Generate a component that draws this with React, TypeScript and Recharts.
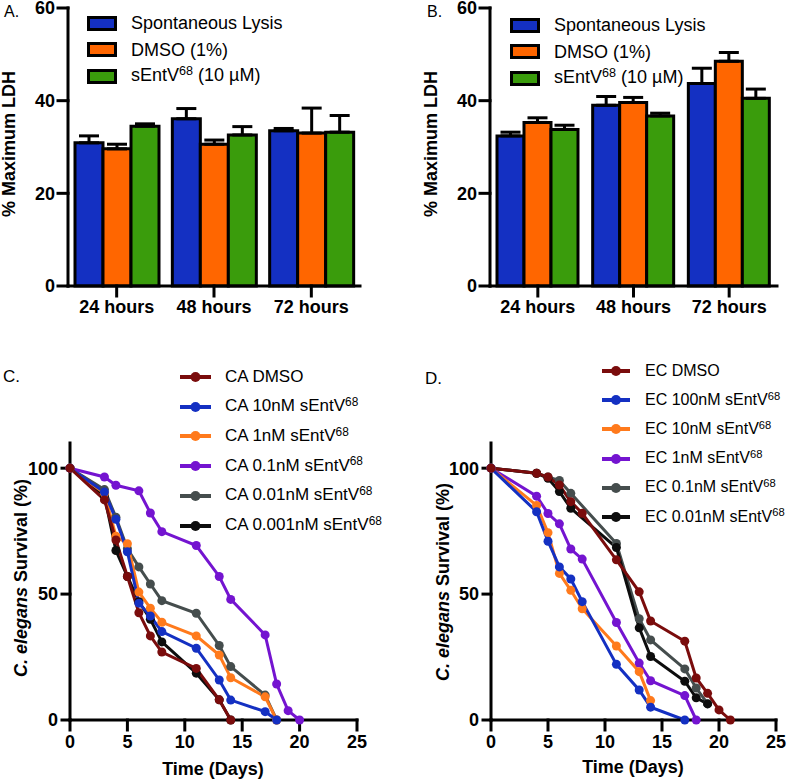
import React from 'react';
import { BarChart, Bar, ErrorBar, LineChart, Line, XAxis, YAxis, Label } from 'recharts';

const FONT = '"Liberation Sans", Arial, Helvetica, sans-serif';

// ---- LDH release (panels A, B) ----
const timepoints = ['24 hours', '48 hours', '72 hours'];
const ldhNames = ['Spontaneous Lysis', 'DMSO (1%)', 'sEntV68 (10 µM)'];
const ldhColors = ['#1430c2', '#ff6600', '#3a9c0c'];

const aLysis = [30.9, 36.1, 33.5];
const aLysisErr = [1.5, 2.2, 0.5];
const aDmso = [29.6, 30.6, 33.0];
const aDmsoErr = [1.0, 0.9, 5.4];
const aEntv = [34.5, 32.6, 33.2];
const aEntvErr = [0.5, 1.8, 3.6];

const bLysis = [32.4, 39.0, 43.7];
const bLysisErr = [0.8, 1.9, 3.3];
const bDmso = [35.3, 39.6, 48.5];
const bDmsoErr = [1.0, 1.1, 1.9];
const bEntv = [33.8, 36.7, 40.5];
const bEntvErr = [0.9, 0.6, 2.0];

// ---- survival curves (panels C, D) ----
const caNames = ['CA DMSO', 'CA 10nM sEntV68', 'CA 1nM sEntV68', 'CA 0.1nM sEntV68', 'CA 0.01nM sEntV68', 'CA 0.001nM sEntV68'];
const ecNames = ['EC DMSO', 'EC 100nM sEntV68', 'EC 10nM sEntV68', 'EC 1nM sEntV68', 'EC 0.1nM sEntV68', 'EC 0.01nM sEntV68'];
const survColors = ['#7a0c0c', '#1430c2', '#ff7a1c', '#7414d0', '#454d4d', '#0d0d0d'];

const caDmsoDays = [0, 3, 4, 5, 6, 7, 8, 11, 13, 14];
const caDmso = [100, 87.4, 71.5, 57, 42.6, 33.4, 27, 20.5, 8, 0];
const ca10Days = [0, 3, 4, 5, 6, 7, 8, 11, 13, 14, 17, 18];
const ca10 = [100, 90.5, 79.7, 66.8, 46.4, 41.3, 35.1, 28.5, 15.9, 7.9, 3.3, 0];
const ca1Days = [0, 3, 4, 5, 6, 7, 8, 11, 13, 14, 17, 18];
const ca1 = [100, 90, 73, 70, 50.8, 44.4, 38.8, 33.4, 25.8, 16.8, 9.2, 0];
const ca01Days = [0, 3, 4, 6, 7, 8, 11, 13, 14, 17, 18, 19, 20];
const ca01 = [100, 96.5, 93.2, 91, 82.2, 74.8, 69.3, 57, 47.9, 33.8, 14.3, 3.7, 0];
const ca001Days = [0, 3, 4, 5, 6, 7, 8, 11, 13, 14, 17, 18];
const ca001 = [100, 91.5, 80.5, 68, 60.8, 54, 47.4, 42.4, 29.6, 21.2, 9.9, 0];
const ca0001Days = [0, 3, 4, 5, 6, 7, 8, 11, 13, 14];
const ca0001 = [100, 89, 67.3, 57, 47, 40, 31, 18.6, 8, 0];

const ecDmsoDays = [0, 4, 5, 6, 7, 8, 11, 13, 14, 17, 18, 19, 20, 21];
const ecDmso = [100, 98, 96.5, 93.3, 86.7, 82.1, 63.6, 50.9, 39.3, 31.3, 16.7, 10.6, 4, 0];
const ec100Days = [0, 4, 5, 6, 7, 8, 11, 13, 14, 17];
const ec100 = [100, 82.7, 71, 60.8, 56, 47, 22.1, 11.9, 5.1, 0];
const ec10Days = [0, 4, 5, 6, 7, 8, 11, 13, 14];
const ec10 = [100, 85.2, 74.4, 58.2, 51.5, 44.2, 29.4, 19.2, 7.7];
const ec1Days = [0, 4, 5, 6, 7, 8, 11, 13, 14, 17, 18];
const ec1 = [100, 88.9, 82, 77.9, 67.9, 63.9, 38.7, 22.6, 15.6, 9.7, 0];
const ec01Days = [0, 4, 5, 6, 7, 11, 13, 14, 17, 18, 19];
const ec01 = [100, 98, 96.5, 95.1, 90, 70.1, 40.2, 31.8, 20.3, 12.7, 6.5];
const ec001Days = [0, 4, 5, 6, 7, 11, 13, 14, 17, 18, 19];
const ec001 = [100, 98, 96, 90.7, 84.1, 68.5, 36.6, 25.2, 15.4, 8.8, 6.4];

const dayTicks = [0, 5, 10, 15, 20, 25];
const survTicks = [0, 50, 100];
const ldhTicks = [0, 20, 40, 60];

const ldhKeys = ['lysis', 'dmso', 'entv'];

const buildLdhRows = (vals: number[][], errs: number[][]) =>
  timepoints.map((t, i) => {
    const row: any = { time: t };
    ldhKeys.forEach((k, j) => {
      row[k] = vals[j][i];
      row[k + 'Err'] = [0, errs[j][i]];
    });
    return row;
  });

const aRows = buildLdhRows([aLysis, aDmso, aEntv], [aLysisErr, aDmsoErr, aEntvErr]);
const bRows = buildLdhRows([bLysis, bDmso, bEntv], [bLysisErr, bDmsoErr, bEntvErr]);

const toPoints = (days: number[], vals: number[]) => days.map((d, i) => ({ day: d, pct: vals[i] }));

const caSeries = [
  toPoints(caDmsoDays, caDmso),
  toPoints(ca10Days, ca10),
  toPoints(ca1Days, ca1),
  toPoints(ca01Days, ca01),
  toPoints(ca001Days, ca001),
  toPoints(ca0001Days, ca0001),
];
const ecSeries = [
  toPoints(ecDmsoDays, ecDmso),
  toPoints(ec100Days, ec100),
  toPoints(ec10Days, ec10),
  toPoints(ec1Days, ec1),
  toPoints(ec01Days, ec01),
  toPoints(ec001Days, ec001),
];
// draw order, back to front (DMSO ends up on top)
const drawOrder = [4, 5, 3, 2, 1, 0];

const axisStyle = { stroke: '#000', strokeWidth: 3, strokeLinecap: 'square' as const };
const tickStyle = { fill: '#000', fontSize: 18, fontWeight: 'bold', fontFamily: FONT };

// "sEntV68" -> sEntV with superscript 68
const withSup = (name: string) => {
  const idx = name.indexOf('sEntV68');
  if (idx < 0) return name;
  return (
    <>
      {name.slice(0, idx)}sEntV
      <span style={{ fontSize: '0.7em', position: 'relative', top: '-0.45em' }}>68</span>
      {name.slice(idx + 7)}
    </>
  );
};

const yTitle = (x: number, y: number, content: React.ReactNode) => () => (
  <text x={x} y={y} transform={`rotate(-90 ${x} ${y})`} textAnchor="middle" fontFamily={FONT} fontWeight="bold" fontSize={18} fill="#000">
    {content}
  </text>
);

const xTitle = (x: number, y: number, content: string) => () => (
  <text x={x} y={y} textAnchor="middle" fontFamily={FONT} fontWeight="bold" fontSize={18} fill="#000">
    {content}
  </text>
);

function LdhChart({ rows, axisWidth, right, titleX }: { rows: any[]; axisWidth: number; right: number; titleX: number }) {
  return (
    <BarChart width={400} height={320} data={rows} margin={{ top: 8, right, bottom: 0, left: 0 }} barCategoryGap={7} barGap={0}>
      <XAxis dataKey="time" height={34} interval={0} axisLine={axisStyle} tickLine={axisStyle} tickSize={10} tickMargin={4} tick={tickStyle} />
      <YAxis width={axisWidth} domain={[0, 60]} ticks={ldhTicks} interval={0} axisLine={axisStyle} tickLine={axisStyle} tickSize={10} tickMargin={3} tick={tickStyle}>
        <Label content={yTitle(titleX, 144, '% Maximum LDH')} />
      </YAxis>
      {ldhKeys.map((k, i) => (
        <Bar key={k} dataKey={k} fill={ldhColors[i]} stroke="#000" strokeWidth={3} isAnimationActive={false}>
          <ErrorBar dataKey={k + 'Err'} direction="y" width={10} stroke="#000" strokeWidth={3} />
        </Bar>
      ))}
    </BarChart>
  );
}

function SurvivalChart({ series, axisWidth, right, titleX, titleY, xTitleX, xTitleY }: any) {
  return (
    <LineChart width={400} height={450} margin={{ top: 113, right, bottom: 0, left: 0 }}>
      <XAxis dataKey="day" type="number" domain={[0, 25]} ticks={dayTicks} interval={0} height={60} axisLine={axisStyle} tickLine={axisStyle} tickSize={10} tickMargin={5} tick={tickStyle} allowDuplicatedCategory={false}>
        <Label content={xTitle(xTitleX, xTitleY, 'Time (Days)')} />
      </XAxis>
      <YAxis dataKey="pct" type="number" domain={[0, 110]} ticks={survTicks} interval={0} width={axisWidth} axisLine={axisStyle} tickLine={axisStyle} tickSize={8} tickMargin={4} tick={tickStyle}>
        <Label
          content={yTitle(titleX, titleY, (
            <>
              <tspan fontStyle="italic">C. elegans</tspan> Survival (%)
            </>
          ))}
        />
      </YAxis>
      {drawOrder.map((i) => (
        <Line
          key={i}
          data={series[i]}
          dataKey="pct"
          type="linear"
          stroke={survColors[i]}
          strokeWidth={3}
          dot={{ r: 4.5, fill: survColors[i], stroke: survColors[i], strokeWidth: 0 }}
          activeDot={false}
          isAnimationActive={false}
        />
      ))}
    </LineChart>
  );
}

function BarLegend({ left, top }: { left: number; top: number }) {
  return (
    <>
      {ldhNames.map((n, i) => (
        <div key={n} style={{ position: 'absolute', left, top: top + i * 26.5 - 9, height: 18, display: 'flex', alignItems: 'center', fontSize: 18, lineHeight: '18px', whiteSpace: 'nowrap' }}>
          <div style={{ width: 30, height: 15, boxSizing: 'border-box', border: '3px solid #000', background: ldhColors[i], marginRight: 14 }} />
          <span>{withSup(n)}</span>
        </div>
      ))}
    </>
  );
}

function LineLegend({ names, left, top, step, iconW, gap, fontSize }: any) {
  return (
    <>
      {names.map((n: string, i: number) => (
        <div key={n} style={{ position: 'absolute', left, top: top + i * step - 9, height: 18, display: 'flex', alignItems: 'center', fontSize, lineHeight: '18px', whiteSpace: 'nowrap' }}>
          <svg width={iconW} height={12} style={{ marginRight: gap, display: 'block' }}>
            <line x1={0} y1={6} x2={iconW} y2={6} stroke={survColors[i]} strokeWidth={4} />
            <circle cx={iconW / 2} cy={6} r={5} fill={survColors[i]} />
          </svg>
          <span>{withSup(n)}</span>
        </div>
      ))}
    </>
  );
}

const letter = (text: string, left: number, top: number, size: number) => (
  <div style={{ position: 'absolute', left, top, fontSize: size, lineHeight: 1 }}>{text}</div>
);

export default function App() {
  return (
    <div style={{ position: 'absolute', left: 0, top: 0, width: 800, height: 780, background: '#fff', fontFamily: FONT, color: '#000', overflow: 'hidden' }}>
      <div style={{ position: 'absolute', left: 0, top: 0 }}>
        <LdhChart rows={aRows} axisWidth={68} right={40} titleX={15} />
      </div>
      <div style={{ position: 'absolute', left: 400, top: 0 }}>
        <LdhChart rows={bRows} axisWidth={90} right={23} titleX={37} />
      </div>
      <div style={{ position: 'absolute', left: 0, top: 330 }}>
        <SurvivalChart series={caSeries} axisWidth={70} right={43} titleX={26.5} titleY={248} xTitleX={213} xTitleY={445} />
      </div>
      <div style={{ position: 'absolute', left: 400, top: 330 }}>
        <SurvivalChart series={ecSeries} axisWidth={91} right={24} titleX={49} titleY={252} xTitleX={233} xTitleY={443} />
      </div>

      <BarLegend left={87} top={23} />
      <BarLegend left={510} top={25} />
      <LineLegend names={caNames} left={180} top={377} step={29.7} iconW={31} gap={14} fontSize={17} />
      <LineLegend names={ecNames} left={602} top={371} step={29.2} iconW={28} gap={15} fontSize={16} />

      {letter('A.', 4, 4, 16)}
      {letter('B.', 427, 4, 16)}
      {letter('C.', 3, 368, 17)}
      {letter('D.', 425, 370, 17)}
    </div>
  );
}
